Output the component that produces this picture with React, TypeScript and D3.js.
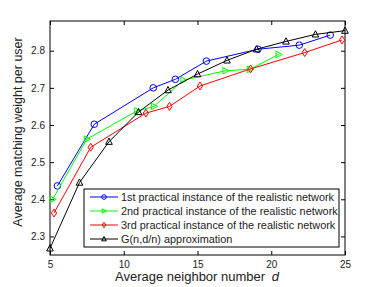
import React, { useEffect, useRef } from "react";
import * as d3 from "d3";

const blueX = [5.5, 8, 12, 13.5, 15.6, 19.1, 21.9, 24];
const blueY = [2.436, 2.602, 2.7, 2.723, 2.772, 2.804, 2.815, 2.842];
const greenX = [5.18, 7.5, 10.9, 12.05, 14.05, 16.9, 18.55, 20.5];
const greenY = [2.4, 2.562, 2.638, 2.65, 2.721, 2.746, 2.75, 2.79];
const redX = [5.27, 7.76, 11.5, 13.1, 15.17, 18.6, 22.27, 24.8];
const redY = [2.363, 2.54, 2.632, 2.65, 2.705, 2.751, 2.795, 2.829];
const blackX = [5, 7, 9, 11, 13, 15, 17, 19, 21, 23, 25];
const blackY = [2.268, 2.445, 2.555, 2.635, 2.694, 2.737, 2.774, 2.804, 2.825, 2.844, 2.854];

const xTicks = [5, 10, 15, 20, 25];
const yTicks = [2.3, 2.4, 2.5, 2.6, 2.7, 2.8];
const seriesNames = [
  "1st practical instance of the realistic network",
  "2nd practical instance of the realistic network",
  "3rd practical instance of the realistic network",
  "G(n,d/n) approximation",
];

const series = [
  { name: seriesNames[0], xs: blueX, ys: blueY, color: "#0000ff", marker: "circle" },
  { name: seriesNames[1], xs: greenX, ys: greenY, color: "#00ff00", marker: "right" },
  { name: seriesNames[2], xs: redX, ys: redY, color: "#ff0000", marker: "diamond" },
  { name: seriesNames[3], xs: blackX, ys: blackY, color: "#000000", marker: "up" },
];

function markerPath(kind: string, s: number) {
  if (kind === "circle") return d3.symbol(d3.symbolCircle, Math.PI * s * s)()!;
  if (kind === "diamond") return `M0,${-s * 1.2}L${s * 0.8},0L0,${s * 1.2}L${-s * 0.8},0Z`;
  if (kind === "right") return `M${-s * 0.8},${-s}L${s * 1.1},0L${-s * 0.8},${s}Z`;
  return `M0,${-s * 1.1}L${s},${s * 0.8}L${-s},${s * 0.8}Z`;
}

export default function App() {
  const ref = useRef<SVGSVGElement>(null);

  useEffect(() => {
    const svg = d3.select(ref.current!);
    svg.selectAll("*").remove();
    const font = "'Liberation Sans', Arial, sans-serif";
    const left = 50, right = 345, top = 21, bottom = 255;

    const x = d3.scaleLinear().domain([5, 25]).range([left, right]);
    const y = d3.scaleLinear().domain([2.25, 2.88]).range([bottom, top]);

    svg.append("rect").attr("width", 382).attr("height", 287).attr("fill", "#fff");

    // axes with inward ticks (bottom/top/left/right)
    const ax = (g: any) => g.attr("font-family", font).attr("font-size", 10);
    svg.append("g").attr("transform", `translate(0,${bottom})`)
      .call(d3.axisBottom(x).tickValues(xTicks).tickSize(-4).tickPadding(6).tickSizeOuter(0))
      .call(ax).call((g) => g.select(".domain").remove());
    svg.append("g").attr("transform", `translate(0,${top})`)
      .call(d3.axisTop(x).tickValues(xTicks).tickSize(-4).tickFormat(() => "").tickSizeOuter(0))
      .call((g) => g.select(".domain").remove());
    svg.append("g").attr("transform", `translate(${left},0)`)
      .call(d3.axisLeft(y).tickValues(yTicks).tickSize(-4).tickPadding(5).tickFormat(d3.format(".1f")).tickSizeOuter(0))
      .call(ax).call((g) => g.select(".domain").remove());
    svg.append("g").attr("transform", `translate(${right},0)`)
      .call(d3.axisRight(y).tickValues(yTicks).tickSize(-4).tickFormat(() => "").tickSizeOuter(0))
      .call((g) => g.select(".domain").remove());
    svg.selectAll(".tick text").attr("fill", "#222");

    svg.append("rect")
      .attr("x", left).attr("y", top).attr("width", right - left).attr("height", bottom - top)
      .attr("fill", "none").attr("stroke", "#000").attr("stroke-width", 1);

    const line = d3.line<[number, number]>().x((d) => x(d[0])).y((d) => y(d[1]));

    series.forEach((s) => {
      const pts = s.xs.map((v, i) => [v, s.ys[i]] as [number, number]);
      svg.append("path").attr("d", line(pts)).attr("fill", "none")
        .attr("stroke", s.color).attr("stroke-width", 1);
      svg.append("g").selectAll("path").data(pts).join("path")
        .attr("transform", (d) => `translate(${x(d[0])},${y(d[1])})`)
        .attr("d", markerPath(s.marker, 3.3))
        .attr("fill", "none").attr("stroke", s.color).attr("stroke-width", 1);
    });

    // legend
    const lg = svg.append("g").attr("transform", "translate(84,189)");
    lg.append("rect").attr("width", 255).attr("height", 58)
      .attr("fill", "#fff").attr("stroke", "#000").attr("stroke-width", 1);
    series.forEach((s, i) => {
      const ly = 8 + i * 14;
      lg.append("line").attr("x1", 6).attr("x2", 34).attr("y1", ly).attr("y2", ly)
        .attr("stroke", s.color).attr("stroke-width", 1);
      lg.append("path").attr("transform", `translate(20,${ly})`)
        .attr("d", markerPath(s.marker, 2.3))
        .attr("fill", "none").attr("stroke", s.color).attr("stroke-width", 1);
      lg.append("text").attr("x", 37).attr("y", ly + 3.8)
        .attr("font-family", font).attr("font-size", 10.9).attr("fill", "#222")
        .text(s.name);
    });

    // axis titles
    const xt = svg.append("text").attr("x", 197).attr("y", 281)
      .attr("text-anchor", "middle").attr("font-family", font).attr("font-size", 13).attr("fill", "#222");
    xt.append("tspan").text("Average neighbor number ");
    xt.append("tspan").attr("font-style", "italic").attr("dx", 3).text("d");

    svg.append("text")
      .attr("transform", `translate(22,132) rotate(-90)`)
      .attr("text-anchor", "middle").attr("font-family", font).attr("font-size", 12.5).attr("fill", "#222")
      .text("Average matching weight per user");
  }, []);

  return (
    <svg ref={ref} width={382} height={287}
      style={{ position: "absolute", left: 0, top: 0, display: "block" }} />
  );
}
